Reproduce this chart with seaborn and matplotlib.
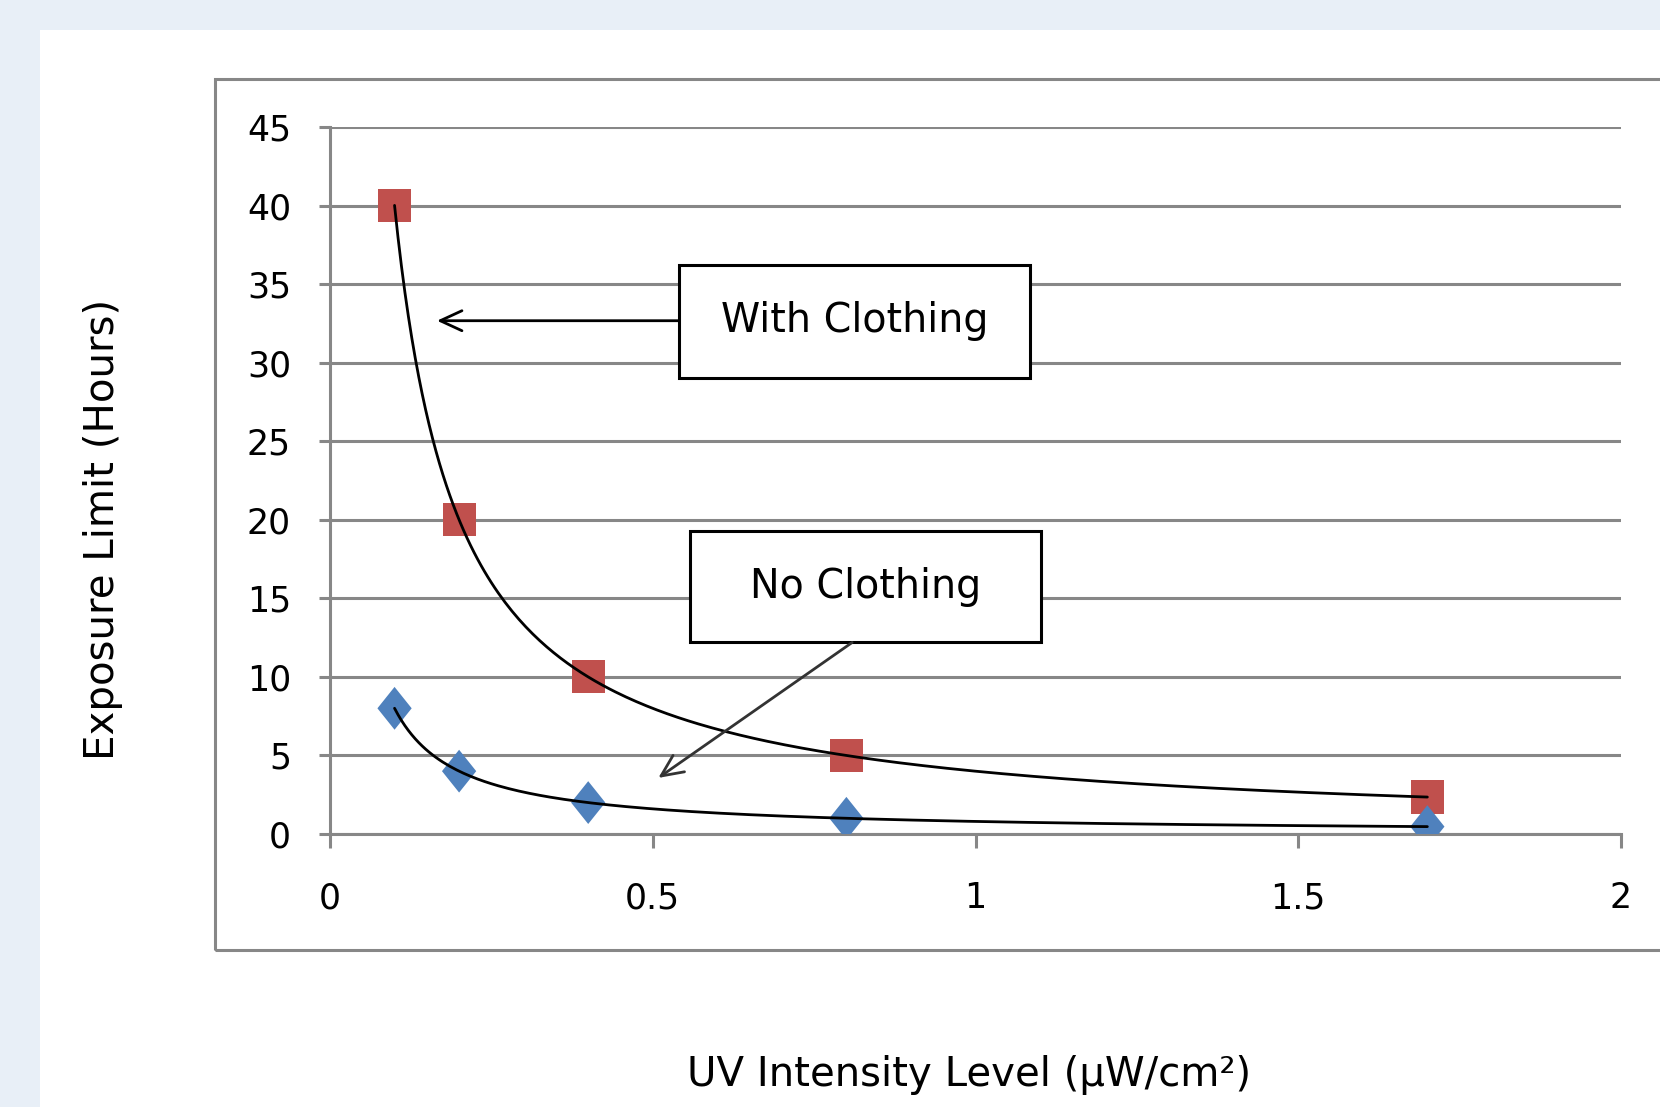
import numpy as np
import pandas as pd
import matplotlib
matplotlib.use("Agg")
import matplotlib.pyplot as plt
import seaborn as sns
from matplotlib.patches import Rectangle
from matplotlib.path import Path

# ---- data ----
uv_intensity = [0.1, 0.2, 0.4, 0.8, 1.7]
limit_with_clothing = [40, 20, 10, 5, 2.35]
limit_no_clothing = [8, 4, 2, 1, 0.47]
x_ticks = [0, 0.5, 1, 1.5, 2]
x_tick_labels = ["0", "0.5", "1", "1.5", "2"]
y_ticks = [0, 5, 10, 15, 20, 25, 30, 35, 40, 45]
y_tick_labels = [str(v) for v in y_ticks]
x_label = "UV Intensity Level (\u03bcW/cm\u00b2)"
y_label = "Exposure Limit (Hours)"
label_with = "With Clothing"
label_no = "No Clothing"

sns.set_theme(style="white")
plt.rcParams["font.family"] = ["DejaVu Sans"]
plt.rcParams["text.color"] = "black"
plt.rcParams["xtick.color"] = "black"
plt.rcParams["ytick.color"] = "black"

W, H = 1660, 1107
fig = plt.figure(figsize=(W / 100, H / 100), dpi=100, facecolor="#E8EFF7")

# white page area
fig.patches.append(Rectangle((40 / W, 0), 1 - 40 / W, (H - 30) / H, transform=fig.transFigure,
                             facecolor="white", edgecolor="none", zorder=-2))
# chart border
fig.patches.append(Rectangle((215 / W, (H - 950) / H), 1.2, (950 - 79) / H, transform=fig.transFigure,
                             facecolor="none", edgecolor="#878787", linewidth=2.2, zorder=-1))

ax = fig.add_axes([330 / W, (H - 834) / H, (1621 - 330) / W, (834 - 127) / H])
ax.set_zorder(3)
ax.set_facecolor("none")

grid_c = "#878787"
ax.set_xlim(0, 2)
ax.set_ylim(0, 45)
ax.set_xticks(x_ticks)
ax.set_xticklabels(x_tick_labels)
ax.set_yticks(y_ticks)
ax.set_yticklabels(y_tick_labels)
ax.yaxis.grid(True, color=grid_c, linewidth=2.2)
ax.xaxis.grid(False)
for s in ["top", "right"]:
    ax.spines[s].set_visible(False)
for s in ["left", "bottom"]:
    ax.spines[s].set_color(grid_c)
    ax.spines[s].set_linewidth(2.2)
ax.tick_params(axis="y", length=8, width=2.2, color=grid_c, left=True, labelsize=25, pad=20,
               labelcolor="black")
ax.tick_params(axis="x", length=10, width=2.2, color=grid_c, bottom=True, labelsize=25, pad=24,
               labelcolor="black")

# trendlines (power fit through data)
xs = np.linspace(min(uv_intensity), max(uv_intensity), 300)
for yvals in (limit_with_clothing, limit_no_clothing):
    b, a = np.polyfit(np.log(uv_intensity), np.log(yvals), 1)
    fit = pd.DataFrame({"x": xs, "y": np.exp(a) * xs ** b})
    sns.lineplot(data=fit, x="x", y="y", ax=ax, color="black", linewidth=2.0, zorder=4)

diamond = Path([(0, 1), (0.8, 0), (0, -1), (-0.8, 0), (0, 1)],
               [Path.MOVETO, Path.LINETO, Path.LINETO, Path.LINETO, Path.CLOSEPOLY])

df_w = pd.DataFrame({"x": uv_intensity, "y": limit_with_clothing})
df_n = pd.DataFrame({"x": uv_intensity, "y": limit_no_clothing})
sns.scatterplot(data=df_w, x="x", y="y", ax=ax, marker="s", s=570, color="#C0504D",
                edgecolor="none", zorder=3)
sns.scatterplot(data=df_n, x="x", y="y", ax=ax, marker=diamond, s=950, color="#4F81BD",
                edgecolor="none", zorder=3)

ax.set_xlabel("")
ax.set_ylabel("")

# annotation boxes
def box(x0, x1, y0, y1, text):
    ax.add_patch(Rectangle((x0, y0), x1 - x0, y1 - y0, facecolor="white", edgecolor="black",
                           linewidth=2.2, zorder=5))
    ax.text((x0 + x1) / 2, (y0 + y1) / 2, text, ha="center", va="center", fontsize=28.5, zorder=6)

box(0.5414, 1.0845, 29.04, 36.24, label_with)
box(0.5578, 1.1009, 12.19, 19.27, label_no)

arrow = dict(arrowstyle="->,head_length=1.3,head_width=0.6", color="black", linewidth=2.0,
             shrinkA=0, shrinkB=0)
ax.annotate("", xy=(0.1657, 32.67), xytext=(0.5414, 32.67), arrowprops=arrow, zorder=6)
arrow2 = dict(arrow, color="#333333")
ax.annotate("", xy=(0.5086, 3.57), xytext=(0.8089, 12.19), arrowprops=arrow2, zorder=6)

fig.text(969 / W, 1 - 1075 / H, x_label, ha="center", va="center", fontsize=29)
fig.text(103 / W, 1 - 529 / H, y_label, ha="center", va="center", fontsize=29, rotation=90)

fig.savefig("out.png", dpi=100, facecolor=fig.get_facecolor())
